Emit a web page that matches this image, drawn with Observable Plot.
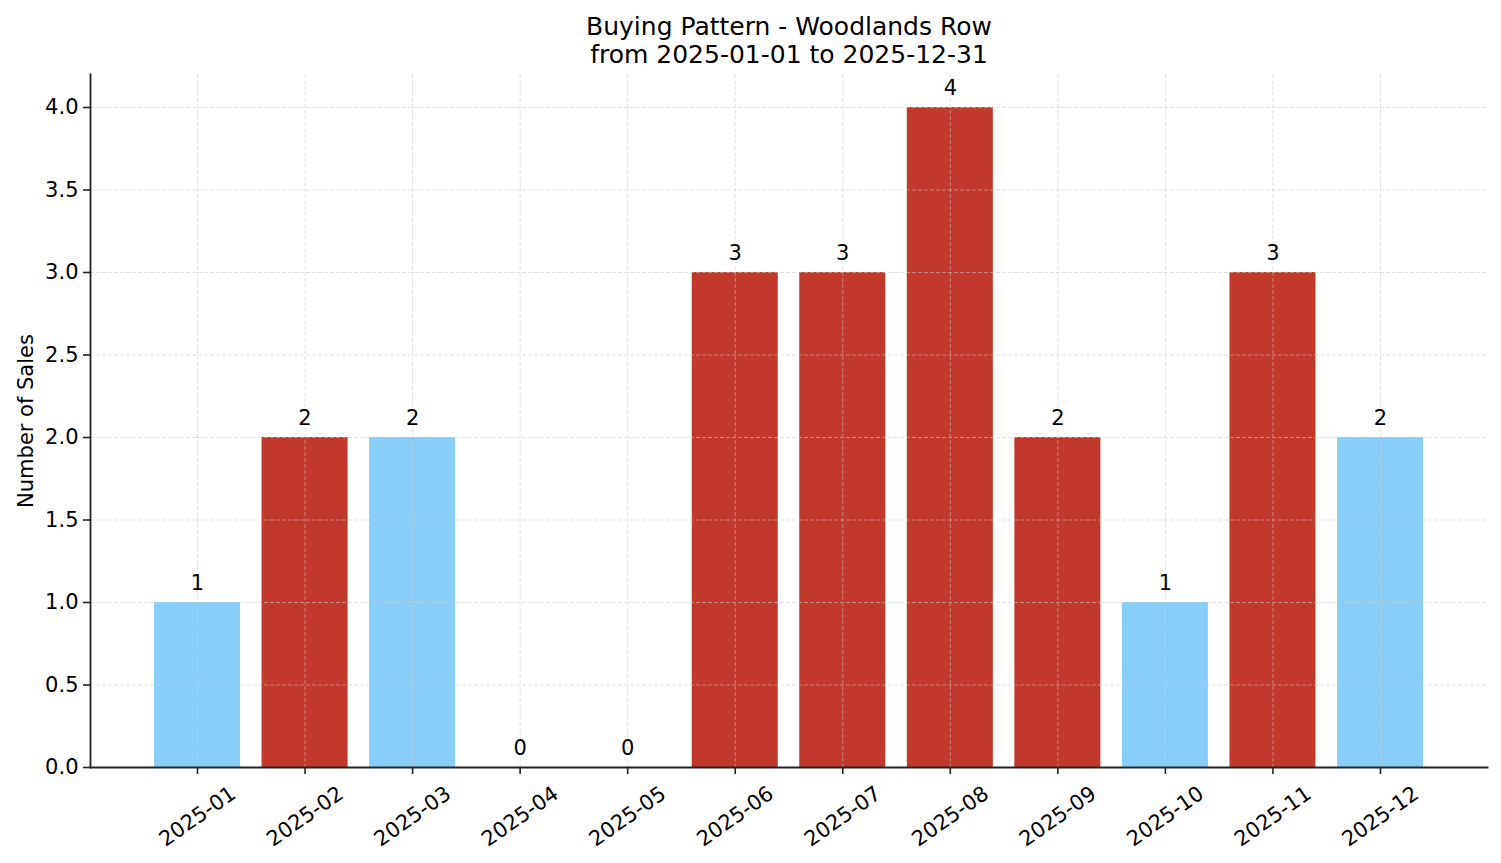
<!DOCTYPE html>
<html>
<head>
<meta charset="utf-8">
<script src="https://cdn.jsdelivr.net/npm/d3@7"></script>
<script src="https://cdn.jsdelivr.net/npm/@observablehq/plot@0.6"></script>
<style>
  html, body { margin: 0; padding: 0; background: #fff; }
  #chart { width: 1501px; height: 863px; }
  svg { font-family: "DejaVu Sans", sans-serif; }
</style>
</head>
<body>
<div id="chart"></div>
<script>
const titleLine1 = "Buying Pattern - Woodlands Row";
const titleLine2 = "from 2025-01-01 to 2025-12-31";
const yLabel = "Number of Sales";
const months = ["2025-01","2025-02","2025-03","2025-04","2025-05","2025-06","2025-07","2025-08","2025-09","2025-10","2025-11","2025-12"];
const sales = [1, 2, 2, 0, 0, 3, 3, 4, 2, 1, 3, 2];
const highlight = [false, true, false, false, false, true, true, true, true, false, true, false];
const yTicks = [0, 0.5, 1, 1.5, 2, 2.5, 3, 3.5, 4];
const colorHigh = "#C0392B";
const colorLow = "#87CEFA";

const data = months.map((m, i) => ({month: m, value: sales[i], high: highlight[i]}));

const chart = Plot.plot({
  width: 1501,
  height: 863,
  marginLeft: 90,
  marginRight: 14,
  marginTop: 74,
  marginBottom: 96,
  style: {fontFamily: "DejaVu Sans, sans-serif", fontSize: "21px", color: "#000", background: "#fff"},
  x: {domain: months, paddingInner: 0.2, paddingOuter: 0.595, round: false, label: null},
  y: {domain: [0, 4.2], label: null},
  marks: [
    Plot.barY(data, {x: "month", y: "value", fill: d => d.high ? colorHigh : colorLow}),
    Plot.gridY(yTicks, {stroke: "#c8c8c8", strokeOpacity: 0.55, strokeWidth: 1, strokeDasharray: "4,2"}),
    Plot.gridX(months, {stroke: "#c8c8c8", strokeOpacity: 0.55, strokeWidth: 1, strokeDasharray: "4,2"}),
    Plot.axisY({ticks: yTicks, tickFormat: d3.format(".1f"), tickSize: 7, tickPadding: 5, fontSize: 21, stroke: "#222", strokeWidth: 1.6, label: null}),
    Plot.axisX({tickSize: 7, tickFormat: () => "", stroke: "#222", strokeWidth: 1.6, label: null}),
    Plot.frame({anchor: "left", stroke: "#222", strokeWidth: 1.8}),
    Plot.frame({anchor: "bottom", stroke: "#222", strokeWidth: 1.8}),
    Plot.text(months, {x: d => d, frameAnchor: "bottom", rotate: -35, textAnchor: "middle", lineAnchor: "middle", dy: 49, fontSize: 21, fill: "#000"}),
    Plot.text(data, {x: "month", y: "value", text: d => String(d.value), lineAnchor: "bottom", dy: -13, fontSize: 21, fill: "#000"}),
    Plot.text([titleLine1], {frameAnchor: "top", lineAnchor: "bottom", dy: -40, fontSize: 25, fill: "#000"}),
    Plot.text([titleLine2], {frameAnchor: "top", lineAnchor: "bottom", dy: -12, fontSize: 25, fill: "#000"}),
    Plot.text([yLabel], {frameAnchor: "left", rotate: -90, textAnchor: "middle", lineAnchor: "bottom", dx: -58, fontSize: 21, fill: "#000"})
  ]
});

document.getElementById("chart").appendChild(chart);
</script>
</body>
</html>
